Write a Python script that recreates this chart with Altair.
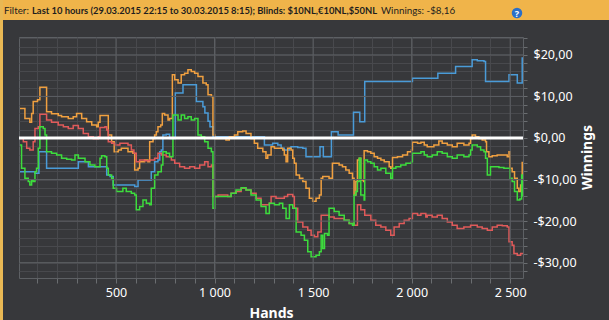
import altair as alt
import pandas as pd

# ---- data (hands, cumulative winnings in $) ----
blue_h = [13, 89, 109, 148, 309, 360, 453, 470, 486, 595, 612, 679, 696, 713, 722, 730, 738, 755, 772,
          801, 840, 908, 941, 951, 967, 977, 992, 1253, 1287, 1295, 1321, 1338, 1354, 1380, 1388, 1422,
          1448, 1464, 1535, 1552, 1593, 1627, 1705, 1737, 1762, 2004, 2133, 2223, 2307, 2333, 2367, 2375,
          2494, 2536, 2561]
blue_v = [-8.1, -8.5, -3.3, -7.3, -5.7, -6.9, -8.9, -9.3, -11.3, -11.7, -10.1, -8.1, -5.7, -5.3, -3.3, -2.9,
          0.7, 0.9, -0.1, 10.8, 12.8, 8.8, 7.5, 6.0, 4.0, 2.7, 0.3, -1.7, -1.7, -1.3, -1.7, -2.5, -2.9, -2.5,
          -2.1, -2.3, -2.5, -4.5, -2.1, -4.5, 1.5, 0.7, 6.2, 3.9, 13.6, 14.4, 15.6, 17.2, 18.8, 18.6, 18.4,
          13.6, 15.2, 13.2, 19.4]

orange_h = [13, 38, 63, 72, 80, 102, 114, 143, 148, 173, 207, 224, 258, 283, 300, 326, 351, 377, 402, 410,
            419, 453, 461, 478, 491, 512, 527, 561, 586, 595, 612, 620, 645, 662, 671, 688, 696, 705, 713,
            727, 735, 747, 764, 772, 786, 798, 815, 831, 848, 865, 882, 899, 916, 941, 958, 967, 984, 992,
            1001, 1058, 1075, 1101, 1118, 1143, 1160, 1185, 1202, 1219, 1245, 1261, 1270, 1287, 1304, 1346,
            1354, 1363, 1371, 1388, 1397, 1405, 1414, 1431, 1448, 1464, 1481, 1498, 1515, 1532, 1541, 1549,
            1581, 1598, 1632, 1649, 1666, 1683, 1700, 1708, 1717, 1725, 1734, 1742, 1756, 1759, 1776, 1793,
            1810, 1827, 1844, 1861, 1886, 1894, 1903, 1928, 1954, 1979, 1999, 2004, 2030, 2047, 2064, 2079,
            2113, 2138, 2155, 2181, 2206, 2231, 2265, 2291, 2299, 2307, 2324, 2341, 2358, 2375, 2380, 2392,
            2409, 2434, 2460, 2485, 2494, 2499, 2510, 2522, 2536, 2544, 2553, 2561]
orange_v = [7.1, 4.7, 3.8, 5.9, 8.8, 9.2, 12.2, 12.2, 6.3, 5.8, 5.4, 5.1, 4.7, 5.1, 5.9, 4.7, 3.9, 3.1, 2.7,
            3.8, 5.4, 5.4, 0.7, -0.9, -3.3, -2.9, -2.5, -3.3, -3.7, -7.7, -7.3, -5.7, -5.3, -5.7, -0.9, -0.1,
            0.7, 1.5, 2.7, 3.1, 5.9, 5.5, 4.3, 4.7, 15.2, 14.0, 13.2, 15.2, 15.6, 16.4, 16.0, 15.6, 14.8,
            13.2, 12.8, 10.4, 10.0, 0.7, -0.1, -0.5, 0.3, 0.7, 1.5, 1.7, 1.1, -0.1, -1.3, -2.5, -3.3, -4.9,
            -4.1, -2.1, -2.5, -2.9, -4.1, -5.7, -2.5, -2.9, -4.9, -6.1, -8.9, -9.7, -10.5, -12.1, -14.5,
            -15.2, -14.5, -13.7, -9.7, -9.3, -9.7, -6.1, -6.5, -6.9, -7.7, -8.5, -9.7, -13.7, -10.5, -5.3,
            -4.9, -10.1, -10.5, -3.1, -3.3, -3.7, -4.5, -4.9, -5.3, -5.7, -6.9, -7.3, -4.7, -4.5, -4.1, -3.3,
            -2.9, -1.0, -1.3, -1.0, -1.7, -2.1, -1.7, -0.7, -1.3, -1.7, -2.1, -1.3, -1.7, -1.3, -0.1, 0.7,
            0.3, -0.1, -0.5, -0.9, -3.3, -4.5, -4.3, -4.1, -4.1, -4.5, -3.3, -7.3, -8.1, -9.7, -12.1, -12.9,
            -11.3, -5.7]

red_h = [13, 30, 47, 63, 80, 89, 106, 114, 140, 148, 173, 207, 233, 258, 283, 309, 334, 360, 385, 410, 419,
         444, 453, 461, 478, 495, 520, 535, 561, 578, 591, 603, 620, 645, 671, 696, 713, 730, 755, 781, 798,
         823, 848, 874, 899, 925, 950, 967, 984, 992, 1018, 1067, 1084, 1109, 1135, 1160, 1185, 1211, 1236,
         1261, 1278, 1287, 1312, 1338, 1354, 1371, 1397, 1405, 1422, 1448, 1473, 1490, 1507, 1524, 1541,
         1581, 1607, 1632, 1658, 1683, 1708, 1725, 1742, 1762, 1793, 1818, 1844, 1869, 1894, 1911, 1937,
         1962, 1987, 2004, 2030, 2047, 2072, 2079, 2104, 2130, 2155, 2181, 2206, 2231, 2265, 2299, 2333,
         2358, 2384, 2409, 2434, 2460, 2485, 2494, 2510, 2519, 2536, 2553, 2561]
red_v = [-0.1, -0.9, -2.5, -2.9, -0.9, 2.3, 2.7, 5.7, 5.7, 4.3, 3.8, 3.1, 2.7, 2.3, 3.0, 2.3, 1.1, 0.3, -0.2,
         0.3, 2.5, 2.7, 1.9, -0.9, -1.3, -1.7, -1.3, -1.3, -1.7, -2.9, -3.7, -5.7, -5.3, -5.5, -5.3, -4.9,
         -3.7, -4.1, -4.5, -5.3, -6.1, -6.9, -7.3, -6.9, -7.3, -6.5, -5.7, -6.9, -6.5, -14.1, -13.7, -14.1,
         -13.3, -12.9, -12.1, -12.5, -13.3, -14.5, -16.1, -16.1, -15.7, -14.1, -14.5, -14.5, -14.1, -13.6,
         -14.1, -16.9, -20.2, -21.4, -22.2, -23.4, -23.8, -22.6, -18.6, -19.0, -19.4, -19.4, -19.8, -20.6,
         -21.0, -16.1, -17.3, -18.6, -19.8, -21.0, -21.4, -22.2, -23.4, -21.4, -20.6, -19.8, -19.4, -18.2,
         -18.6, -18.2, -19.0, -18.6, -19.0, -18.6, -19.4, -20.2, -21.0, -21.8, -21.4, -21.0, -21.4, -21.8,
         -22.2, -21.4, -21.0, -21.1, -21.4, -25.0, -25.8, -27.8, -28.2, -27.8, -27.6]

green_h = [13, 21, 38, 55, 63, 72, 80, 89, 97, 106, 114, 131, 140, 148, 173, 199, 224, 250, 275, 292, 309,
           343, 368, 393, 419, 427, 444, 453, 461, 478, 486, 503, 535, 552, 578, 595, 603, 620, 637, 654, 671,
           679, 696, 713, 730, 738, 755, 772, 789, 815, 831, 848, 865, 882, 899, 916, 933, 950, 967, 984,
           992, 1001, 1058, 1084, 1109, 1135, 1160, 1185, 1211, 1236, 1261, 1278, 1304, 1329, 1346, 1363,
           1380, 1397, 1414, 1439, 1456, 1473, 1490, 1515, 1532, 1541, 1549, 1558, 1573, 1581, 1607, 1632,
           1658, 1683, 1700, 1708, 1717, 1725, 1734, 1742, 1759, 1762, 1776, 1793, 1810, 1827, 1844, 1869,
           1894, 1903, 1920, 1945, 1971, 1999, 2004, 2030, 2047, 2064, 2079, 2104, 2130, 2155, 2181, 2206,
           2231, 2265, 2291, 2299, 2307, 2333, 2350, 2367, 2375, 2384, 2400, 2417, 2443, 2468, 2485, 2499,
           2510, 2522, 2536, 2549, 2558, 2561]
green_v = [-1.7, -7.3, -9.7, -10.5, -11.3, -10.1, -10.5, -8.1, -7.3, -2.5, 2.7, 2.3, 0.7, -3.3, -3.7, -4.1,
           -4.9, -5.1, -5.3, -4.1, -4.9, -5.7, -6.5, -6.9, -4.9, -4.3, -4.5, -7.3, -8.9, -9.7, -12.1, -12.9,
           -12.1, -12.9, -13.3, -13.7, -17.3, -16.5, -14.9, -15.7, -16.1, -12.1, -8.9, -8.1, -6.5, -3.3,
           -3.7, -4.5, 5.5, 4.3, 5.5, 4.7, 5.1, 4.3, 4.7, 0.7, 0.3, -0.9, -2.5, -3.3, -16.9, -14.1, -14.1,
           -13.3, -12.5, -12.0, -12.5, -13.7, -14.9, -16.5, -18.2, -15.7, -16.1, -15.7, -16.9, -19.4, -16.1,
           -16.9, -22.6, -23.4, -24.6, -27.4, -28.6, -28.2, -27.4, -23.4, -26.6, -23.0, -23.4, -16.9, -17.7,
           -18.6, -19.8, -20.6, -21.0, -13.7, -12.9, -10.5, -4.9, -13.7, -14.9, -5.3, -5.7, -6.1, -6.9, -7.7,
           -7.3, -8.5, -9.7, -7.3, -6.9, -6.5, -6.1, -5.7, -3.7, -3.7, -3.3, -4.1, -4.5, -4.1, -3.3, -3.7,
           -4.5, -4.9, -4.1, -4.5, -4.1, -2.9, -1.7, -2.1, -2.9, -3.3, -4.9, -8.9, -6.9, -6.9, -7.1, -7.3,
           -7.3, -9.7, -10.5, -12.9, -14.9, -14.7, -8.9, -14.1]

series_names = ["blue", "orange", "red", "green"]
series_colors = ["#4a9bd8", "#f0a040", "#e05a5a", "#3ddc3d"]

x_ticks = list(range(100, 2600, 100))
x_major = [500, 1000, 1500, 2000, 2500]
y_ticks = list(range(-32, 25, 2))
y_major = [-30, -20, -10, 10, 20]

header_bold = "Last 10 hours (29.03.2015 22:15 to 30.03.2015 8:15); Blinds: $10NL,€10NL,$50NL"
header_tail = "Winnings:  -$8,16"

# ---- build tables ----
rows = []
for name, hs, vs in zip(series_names, [blue_h, orange_h, red_h, green_h], [blue_v, orange_v, red_v, green_v]):
    for h, v in zip(hs, vs):
        rows.append({"series": name, "hand": h, "value": v})
df = pd.DataFrame(rows)
one = pd.DataFrame({"k": [0]})
xmaj = pd.DataFrame({"hand": x_major})
ymaj = pd.DataFrame({"value": y_major})
zdf = pd.DataFrame({"value": [0]})

FONT = "Noto Sans"
HFONT = "Lato"
BG = "#37383b"
GRID = "#48494d"
GRID_MAJOR = "#5c5f63"

x_scale = alt.Scale(domain=[8, 2565], nice=False, zero=False)
y_scale = alt.Scale(domain=[-33.7, 24.3], nice=False, zero=False)

x_axis = alt.Axis(values=x_ticks, title="Hands", grid=True, gridColor=GRID, gridWidth=1, domain=False,
                  labelExpr="datum.value % 500 === 0 ? replace(format(datum.value, ','), ',', ' ') : ''",
                  labelOverlap=False, tickColor="#6a6d70", tickSize=5, labelColor="#ffffff",
                  labelFontSize=12.5, labelFont=FONT, labelPadding=3, titleFont=FONT, titleFontSize=14,
                  titleFontWeight="bold", titleColor="#ffffff", titlePadding=8)
y_axis = alt.Axis(orient="right", values=y_ticks, title="Winnings", grid=True, gridColor=GRID,
                  gridWidth=1, domain=False,
                  labelExpr="datum.value % 10 === 0 ? (datum.value < 0 ? '-' : '') + '$' + replace(format(abs(datum.value), '.2f'), '.', ',') : ''",
                  labelOverlap=False, tickColor="#6a6d70", tickSize=4, labelColor="#ffffff",
                  labelFontSize=12.5, labelFont=FONT, labelPadding=6, labelAlign="left",
                  titleFont=FONT, titleFontSize=14, titleFontWeight="bold", titleColor="#ffffff",
                  titleAngle=270, titleX=64, titleY=120, titleAlign="center", titleBaseline="middle")

lines = alt.Chart(df).mark_line(interpolate="step-after", strokeWidth=1.5, clip=True).encode(
    x=alt.X("hand:Q", scale=x_scale, axis=x_axis),
    y=alt.Y("value:Q", scale=y_scale, axis=y_axis),
    color=alt.Color("series:N", scale=alt.Scale(domain=series_names, range=series_colors), legend=None),
)

vmaj = alt.Chart(xmaj).mark_rule(color=GRID_MAJOR, strokeWidth=1).encode(
    x=alt.X("hand:Q", scale=x_scale, axis=x_axis))
hmaj = alt.Chart(ymaj).mark_rule(color=GRID_MAJOR, strokeWidth=1).encode(
    y=alt.Y("value:Q", scale=y_scale, axis=y_axis))
zero = alt.Chart(zdf).mark_rule(color="#ffffff", strokeWidth=3).encode(
    y=alt.Y("value:Q", scale=y_scale, axis=y_axis))

OX, OY = 19, 37  # plot origin within the page
header = alt.Chart(one).mark_rect(color="#f0b44a").encode(
    x=alt.value(-OX), x2=alt.value(609 - OX), y=alt.value(-OY), y2=alt.value(20 - OY))
strip = alt.Chart(one).mark_rect(color="#e9b854").encode(
    x=alt.value(-OX), x2=alt.value(3 - OX), y=alt.value(-OY), y2=alt.value(320 - OY))

HS = 9.4
t1 = alt.Chart(one).mark_text(align="left", baseline="middle", font=HFONT, fontSize=HS + 0.4, color="#1e1e1e").encode(
    x=alt.value(4 - OX), y=alt.value(10.5 - OY), text=alt.value("Filter:"))
t2 = alt.Chart(one).mark_text(align="left", baseline="middle", font=HFONT, fontSize=HS, fontWeight="bold",
                              color="#1e1e1e").encode(
    x=alt.value(32 - OX), y=alt.value(10.5 - OY), text=alt.value(header_bold))
t3 = alt.Chart(one).mark_text(align="left", baseline="middle", font=HFONT, fontSize=HS + 0.4, color="#1e1e1e").encode(
    x=alt.value(381 - OX), y=alt.value(10.5 - OY), text=alt.value(header_tail))
icon = alt.Chart(one).mark_point(filled=True, shape="circle", size=110, color="#2a6fc9", opacity=1).encode(
    x=alt.value(517 - OX), y=alt.value(13 - OY))
icon_t = alt.Chart(one).mark_text(align="center", baseline="middle", font=FONT, fontSize=9, fontWeight="bold",
                                  color="#ffffff").encode(
    x=alt.value(517 - OX), y=alt.value(13.5 - OY), text=alt.value("?"))

chart = alt.layer(lines, vmaj, hmaj, zero, header, strip, t1, t2, t3, icon, icon_t).properties(
    width=504, height=241,
    padding={"left": OX, "top": OY, "right": 609 - OX - 504, "bottom": 320 - OY - 241},
    autosize=alt.AutoSizeParams(type="none"),
    background=BG,
).configure_view(stroke="#5d6064", fill=BG)

chart.save("out.html", embed_options={"renderer": "svg", "actions": False})
